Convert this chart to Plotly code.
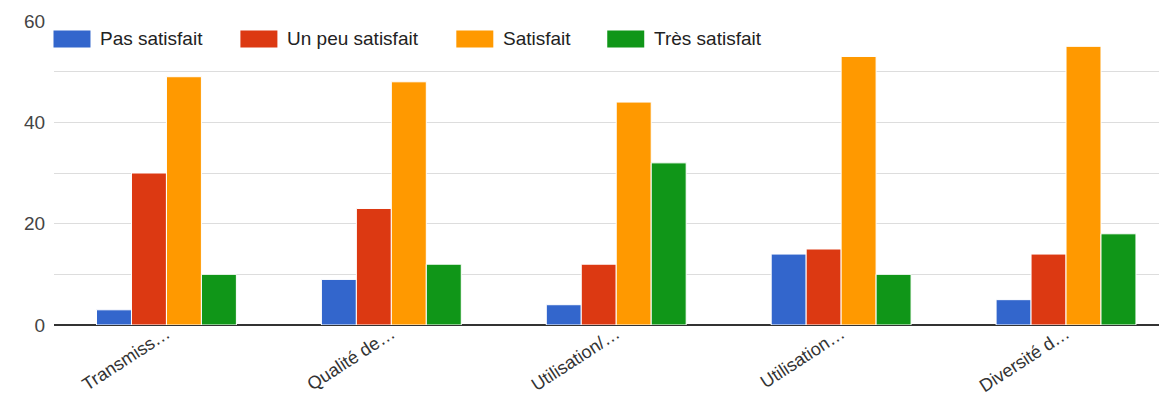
import plotly.graph_objects as go

categories = ["Transmiss…", "Qualité de…", "Utilisation/…", "Utilisation…", "Diversité d…"]
series_names = ["Pas satisfait", "Un peu satisfait", "Satisfait", "Très satisfait"]
pas_satisfait = [3, 9, 4, 14, 5]
un_peu_satisfait = [30, 23, 12, 15, 14]
satisfait = [49, 48, 44, 53, 55]
tres_satisfait = [10, 12, 32, 10, 18]
y_tick_vals = [0, 10, 20, 30, 40, 50, 60]
y_tick_text = ["0", "", "20", "", "40", "", "60"]

colors = ["#3366CC", "#DC3912", "#FF9900", "#109618"]
values = [pas_satisfait, un_peu_satisfait, satisfait, tres_satisfait]

OFF = 8  # page body margin offset
W, H = 1167 - OFF, 401 - OFF
L, R, T, B = 53.5 - OFF, 0, 20.5 - OFF, 76

fig = go.Figure()
for name, vals, col in zip(series_names, values, colors):
    fig.add_trace(go.Bar(
        x=list(range(len(categories))), y=vals, name=name,
        marker=dict(color=col, line=dict(color="white", width=1)),
        showlegend=False,
    ))

pw = W - L - R
ph = H - T - B

def px_x(p):
    return (p - OFF - L) / pw

def px_y(p):
    return (H - B - (p - OFF)) / ph

# custom legend (large swatches like the reference)
swatch_left = [53, 240, 456, 607]
shapes = []
annotations = []
for name, col, sx in zip(series_names, colors, swatch_left):
    shapes.append(dict(type="rect", xref="paper", yref="paper",
                       x0=px_x(sx), x1=px_x(sx + 37), y0=px_y(47), y1=px_y(30),
                       fillcolor=col, line=dict(width=0), layer="above"))
    annotations.append(dict(xref="paper", yref="paper", x=px_x(sx + 45), y=px_y(38.5),
                            text=name, showarrow=False, xanchor="left", yanchor="middle",
                            font=dict(family="Liberation Sans, Arial, sans-serif", size=19, color="#222222")))

fig.update_layout(
    width=W, height=H,
    margin=dict(l=L, r=R, t=T, b=B, pad=0),
    paper_bgcolor="white", plot_bgcolor="white",
    barmode="group", bargap=0.378, bargroupgap=0.0,
    showlegend=False,
    shapes=shapes, annotations=annotations,
    font=dict(family="Liberation Sans, Arial, sans-serif", color="#444444"),
)
fig.update_xaxes(
    tickvals=list(range(len(categories))), ticktext=categories,
    range=[-0.5, 4.449], tickangle=-33,
    tickfont=dict(size=18, color="#333333"),
    ticklabelstandoff=-6,
    showgrid=False, zeroline=False, showline=False, ticks="",
)
fig.update_yaxes(
    range=[0, 60], tickvals=y_tick_vals, ticktext=y_tick_text,
    showgrid=True, gridcolor="#DDDDDD", gridwidth=1,
    zeroline=True, zerolinecolor="#333333", zerolinewidth=2,
    tickfont=dict(size=19, color="#444444"),
    ticks="outside", ticklen=4, tickcolor="white",
    showline=False,
)

fig.write_html("out.html")
